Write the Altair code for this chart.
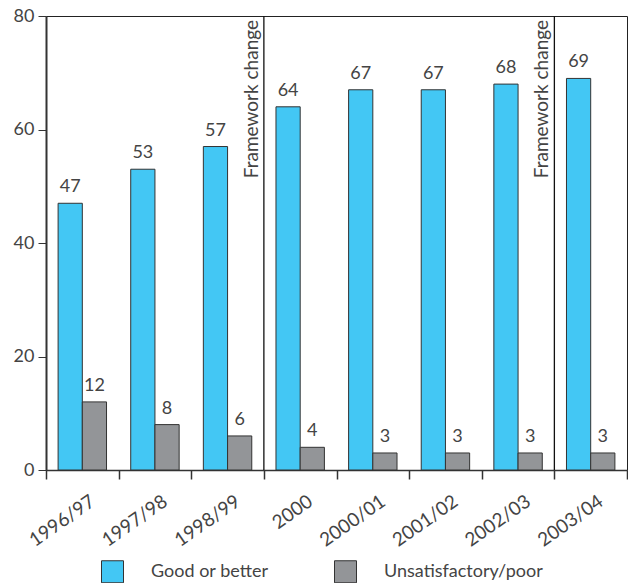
import altair as alt
import pandas as pd

# Inspection results by school year
years = ["1996/97", "1997/98", "1998/99", "2000", "2000/01", "2001/02", "2002/03", "2003/04"]
good_or_better = [47, 53, 57, 64, 67, 67, 68, 69]
unsatisfactory_poor = [12, 8, 6, 4, 3, 3, 3, 3]

series_names = ["Good or better", "Unsatisfactory/poor"]
series_colors = ["#43c7f4", "#939598"]

# Years in which the inspection framework changed
framework_changes = ["2000", "2003/04"]
framework_label = "Framework change"

rows = []
for yr, g, p in zip(years, good_or_better, unsatisfactory_poor):
    rows.append({"year": yr, "series": series_names[0], "pct": g})
    rows.append({"year": yr, "series": series_names[1], "pct": p})
df = pd.DataFrame(rows)
changes = pd.DataFrame({"year": framework_changes, "label": framework_label})

FONT = "Lato"
INK = "#444444"

x_scale = alt.Scale(domain=years, paddingInner=0, paddingOuter=0)
y_scale = alt.Scale(domain=[0, 80], nice=False)

x_axis = alt.Axis(
    title=None, labelAngle=-35, labelAlign="right", labelBaseline="middle",
    tickBand="extent", tickSize=9, labelPadding=20, labelOffset=10,
    labelFontSize=19, labelColor=INK,
    domainColor="#333", domainWidth=1.5,
    tickColor="#333", tickWidth=1.5, grid=False,
)
y_axis = alt.Axis(
    title=None, values=[0, 20, 40, 60, 80], tickSize=8, labelPadding=4,
    labelFontSize=18, labelColor=INK,
    domainColor="#333", domainWidth=2,
    tickColor="#333", tickWidth=1, grid=False,
)

offset = alt.XOffset("series:N", sort=series_names,
                     scale=alt.Scale(paddingInner=0, paddingOuter=0.5))

bars = alt.Chart(df).mark_bar(stroke="#333", strokeWidth=1).encode(
    x=alt.X("year:N", sort=years, scale=x_scale, axis=x_axis),
    xOffset=offset,
    y=alt.Y("pct:Q", scale=y_scale, axis=y_axis),
    color=alt.Color(
        "series:N", sort=series_names,
        scale=alt.Scale(domain=series_names, range=series_colors),
        legend=alt.Legend(
            title=None, orient="none", legendX=55, legendY=544,
            direction="horizontal", symbolType="square", symbolSize=484,
            symbolStrokeColor="#333", symbolStrokeWidth=1, symbolOpacity=1,
            labelFontSize=18, labelColor=INK,
            labelOffset=27, columnPadding=63, padding=0,
        ),
    ),
)

values = alt.Chart(df).mark_text(
    baseline="bottom", dy=-7, fontSize=18, color=INK
).encode(
    x=alt.X("year:N", sort=years, scale=x_scale),
    xOffset=offset,
    y=alt.Y("pct:Q", scale=y_scale),
    text=alt.Text("pct:Q"),
)

rules = alt.Chart(changes).mark_rule(color="#111", strokeWidth=1.3).encode(
    x=alt.X("year:N", sort=years, scale=x_scale, bandPosition=0),
)

rule_text = alt.Chart(changes).mark_text(
    angle=270, align="right", baseline="bottom", dx=-4, dy=-2,
    fontSize=19, color=INK,
).encode(
    x=alt.X("year:N", sort=years, scale=x_scale, bandPosition=0),
    y=alt.datum(80),
    text="label:N",
)

chart = alt.layer(bars, values, rules, rule_text).properties(
    width=581, height=454,
    autosize=alt.AutoSizeParams(type="none"),
    padding={"left": 46, "top": 16, "right": 1, "bottom": 113},
).configure(
    font=FONT,
).configure_view(
    stroke="#222", strokeWidth=1,
)

chart.save("out.html", embed_options={"renderer": "svg", "actions": False})
